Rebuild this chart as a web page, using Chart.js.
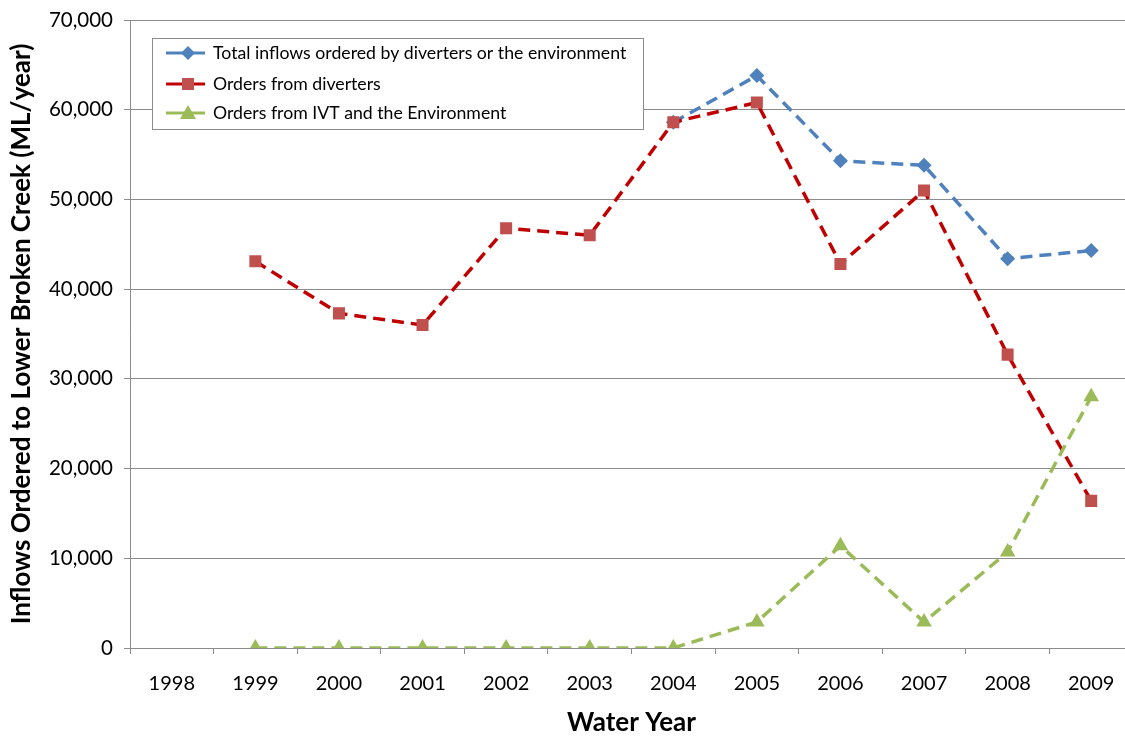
<!DOCTYPE html>
<html>
<head>
<meta charset="utf-8">
<script src="https://cdn.jsdelivr.net/npm/chart.js@4/dist/chart.umd.min.js"></script>
<style>
  html, body { margin: 0; padding: 0; background: #fff; overflow: hidden; }
  #wrap { width: 1142px; height: 738px; position: relative; }
</style>
</head>
<body>
<div id="wrap"><canvas id="lineChart"></canvas></div>
<script>
// === DATA ===
const years       = ['1998', '1999', '2000', '2001', '2002', '2003', '2004', '2005', '2006', '2007', '2008', '2009'];
const totalInflow = [null, null, null, null, null, null, 58600, 63800, 54300, 53800, 43400, 44300];
const diverters   = [null, 43100, 37300, 36000, 46800, 46000, 58600, 60800, 42800, 51000, 32700, 16400];
const ivtEnv      = [null, 0, 0, 0, 0, 0, 0, 2900, 11400, 2900, 10700, 28000];
const yTicks      = [0, 10000, 20000, 30000, 40000, 50000, 60000, 70000];

const FONT = 'Lato, "Liberation Sans", sans-serif';
const COLORS = {
    blue:     '#4F81BD',
    redLine:  '#C00000',
    redMark:  '#C0504D',
    green:    '#9BBB59',
    grid:     '#8c8c8c',
    text:     '#000000',
};

// legend drawn inside the plot, boxed like the original
const boxLegend = {
    id: 'boxLegend',
    afterDraw(chart) {
        const ctx = chart.ctx;
        const x = 152, y = 38, w = 491, h = 91;
        ctx.save();
        ctx.fillStyle = '#fff';
        ctx.fillRect(x, y, w, h);
        ctx.strokeStyle = '#8c8c8c';
        ctx.lineWidth = 1;
        ctx.strokeRect(x + 0.5, y + 0.5, w, h);
        const rows = [53, 84, 113];
        chart.data.datasets.forEach((ds, i) => {
            const cy = rows[i];
            ctx.strokeStyle = ds.borderColor;
            ctx.lineWidth = 3;
            ctx.setLineDash([]);
            ctx.beginPath();
            ctx.moveTo(166, cy);
            ctx.lineTo(205, cy);
            ctx.stroke();
            ctx.fillStyle = ds.pointBackgroundColor;
            const mx = 188;
            ctx.beginPath();
            if (ds.pointStyle === 'rectRot') {
                ctx.moveTo(mx, cy - 7); ctx.lineTo(mx + 7, cy); ctx.lineTo(mx, cy + 7); ctx.lineTo(mx - 7, cy);
            } else if (ds.pointStyle === 'rect') {
                ctx.rect(mx - 6, cy - 6, 12, 12);
            } else {
                ctx.moveTo(mx, cy - 8); ctx.lineTo(mx + 8, cy + 6); ctx.lineTo(mx - 8, cy + 6);
            }
            ctx.closePath();
            ctx.fill();
            ctx.fillStyle = COLORS.text;
            ctx.font = '17.7px ' + FONT;
            ctx.textBaseline = 'middle';
            ctx.fillText(ds.label, 213, cy);
        });
        ctx.restore();
    },
};

function lineDataset(label, data, line, mark, style, radius, order) {
    return {
        label,
        data,
        borderColor:          line,
        backgroundColor:      mark,
        pointBackgroundColor: mark,
        pointBorderColor:     mark,
        pointBorderWidth:     0,
        pointStyle:           style,
        pointRadius:          radius,
        pointHoverRadius:     radius,
        borderWidth:          3.5,
        borderDash:           [12, 7],
        tension:              0,
        fill:                 false,
        spanGaps:             false,
        order,
    };
}

new Chart(document.getElementById('lineChart').getContext('2d'), {
    type: 'line',
    data: {
        labels: years,
        datasets: [
            lineDataset('Total inflows ordered by diverters or the environment', totalInflow, COLORS.blue, COLORS.blue, 'rectRot', 7.5, 3),
            lineDataset('Orders from diverters', diverters, COLORS.redLine, COLORS.redMark, 'rect', 8.5, 2),
            lineDataset('Orders from IVT and the Environment', ivtEnv, COLORS.green, COLORS.green, 'triangle', 9, 1),
        ],
    },
    options: {
        responsive: true,
        maintainAspectRatio: false,
        animation: false,
        layout: { padding: { top: 20, right: 0, left: 0, bottom: 0 } },
        plugins: {
            legend:  { display: false },
            tooltip: { enabled: false },
        },
        scales: {
            x: {
                offset: true,
                grid: {
                    offset:          true,
                    drawOnChartArea: false,
                    drawTicks:       true,
                    tickLength:      6,
                    color:           COLORS.grid,
                },
                border: { color: COLORS.grid, width: 1 },
                ticks: {
                    color:       COLORS.text,
                    font:        { family: FONT, size: 20 },
                    padding:     18,
                    maxRotation: 0,
                },
                title: {
                    display: true,
                    text:    'Water Year',
                    color:   COLORS.text,
                    font:    { family: FONT, size: 26, weight: 'bold' },
                    padding: { top: 0, bottom: 0 },
                },
                afterFit: scale => { scale.height = 90; },
            },
            y: {
                min: 0,
                max: 70000,
                afterBuildTicks: scale => { scale.ticks = yTicks.map(v => ({ value: v })); },
                grid: {
                    color:      COLORS.grid,
                    tickLength: 6,
                },
                border: { color: COLORS.grid, width: 1 },
                ticks: {
                    color:    COLORS.text,
                    font:     { family: FONT, size: 20.5 },
                    padding:  11,
                    callback: value => value.toLocaleString('en-US'),
                },
                title: {
                    display: true,
                    text:    'Inflows Ordered to Lower Broken Creek (ML/year)',
                    color:   COLORS.text,
                    font:    { family: FONT, size: 26, weight: 'bold' },
                    padding: { top: 6, bottom: 0 },
                },
                afterFit: scale => {
                    scale.width = 130;
                    scale.paddingTop = 0;
                    scale.paddingBottom = 0;
                },
            },
        },
    },
    plugins: [boxLegend],
});
</script>
</body>
</html>
